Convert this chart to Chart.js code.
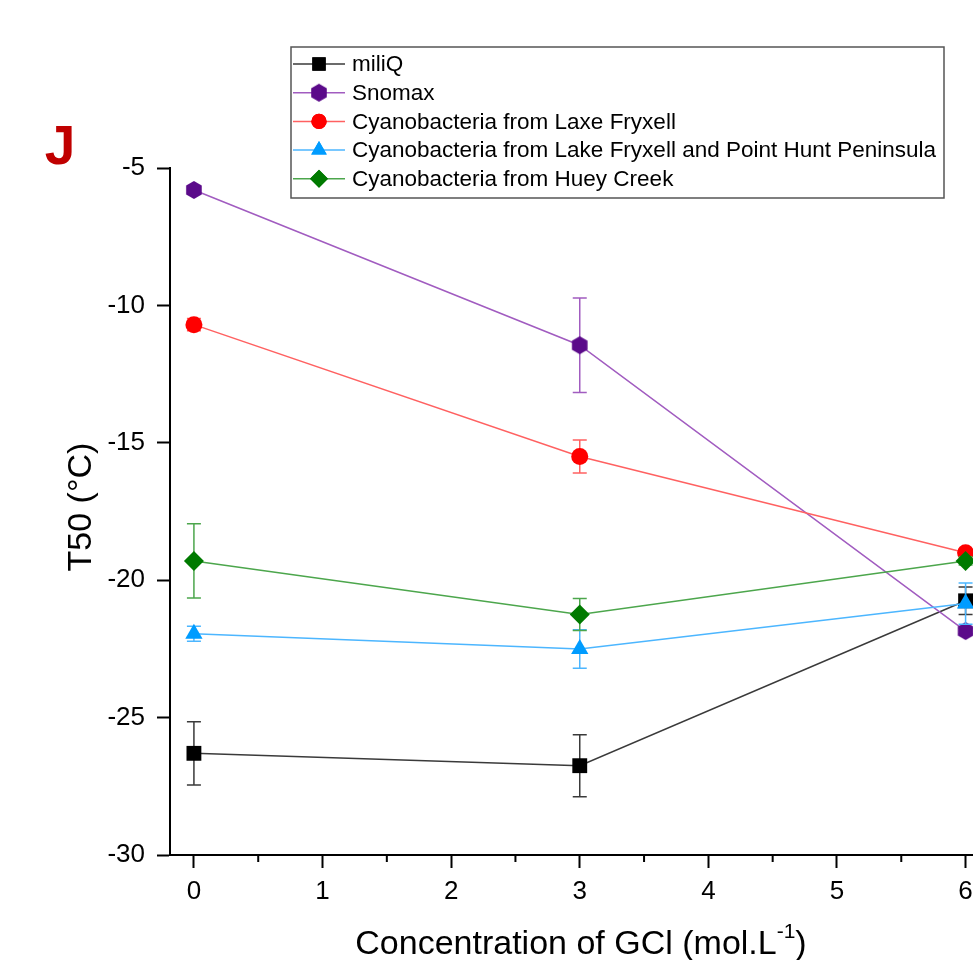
<!DOCTYPE html>
<html>
<head>
<meta charset="utf-8">
<script src="https://cdn.jsdelivr.net/npm/chart.js@4"></script>
<style>
  html, body { margin: 0; padding: 0; background: #fff; overflow: hidden; }
  #wrap { position: absolute; left: 0; top: 0; width: 1000px; height: 960px; }
</style>
</head>
<body>
<div id="wrap"><canvas id="chart" width="1000" height="960"></canvas></div>
<script>
// ========== DATA ==========
const concentrations = [0, 3, 6];
const seriesNames = [
  "miliQ",
  "Snomax",
  "Cyanobacteria from Laxe Fryxell",
  "Cyanobacteria from Lake Fryxell and Point Hunt Peninsula",
  "Cyanobacteria from Huey Creek",
];
const miliQ = [-26.3, -26.75, -20.75];
const miliQErr = [1.15, 1.13, 0.5];
const snomax = [-5.8, -11.45, -21.85];
const snomaxErr = [0.1, 1.72, 0.1];
const laxeFryxell = [-10.7, -15.5, -19.0];
const laxeFryxellErr = [0.22, 0.6, 0.1];
const pointHunt = [-21.95, -22.5, -20.85];
const pointHuntErr = [0.27, 0.7, 0.75];
const hueyCreek = [-19.3, -21.25, -19.3];
const hueyCreekErr = [1.35, 0.58, 0.15];
const yTicks = [-30, -25, -20, -15, -10, -5];
const xTicks = [0, 1, 2, 3, 4, 5, 6];

const FONT = '"Liberation Sans", Arial, sans-serif';

// hexagon marker for Snomax (no built-in style)
function hexagon(r, color) {
  const c = document.createElement("canvas");
  c.width = c.height = Math.ceil(r * 2 + 2);
  const g = c.getContext("2d");
  const m = c.width / 2;
  g.beginPath();
  for (let i = 0; i < 6; i++) {
    const a = Math.PI / 2 + (i * Math.PI) / 3;
    g.lineTo(m + r * Math.cos(a), m - r * Math.sin(a));
  }
  g.closePath();
  g.fillStyle = color;
  g.fill();
  return c;
}

const styles = [
  { line: "#3a3a3a", mark: "#000000", point: "rect", radius: 10.5 },
  { line: "#a15cc0", mark: "#5b0a8a", point: hexagon(9, "#5b0a8a"), radius: 9 },
  { line: "#ff6161", mark: "#ff0000", point: "circle", radius: 8.5 },
  { line: "#4cb6ff", mark: "#009cff", point: "triangle", radius: 10 },
  { line: "#4ca64c", mark: "#007a00", point: "rectRot", radius: 10 },
];
const values = [miliQ, snomax, laxeFryxell, pointHunt, hueyCreek];
const errors = [miliQErr, snomaxErr, laxeFryxellErr, pointHuntErr, hueyCreekErr];

const datasets = values.map((v, i) => ({
  label: seriesNames[i],
  data: concentrations.map((x, j) => ({ x, y: v[j] })),
  errors: errors[i],
  borderColor: styles[i].line,
  backgroundColor: styles[i].mark,
  borderWidth: 1.5,
  pointStyle: styles[i].point,
  pointRadius: styles[i].radius,
  pointBorderWidth: 0,
  pointBackgroundColor: styles[i].mark,
  tension: 0,
  order: values.length - i,
  clip: false,
}));

// error bars, drawn under each series' markers
const errorBars = {
  id: "errorBars",
  beforeDatasetDraw(chart, args) {
    const ds = chart.data.datasets[args.index];
    const { x, y } = chart.scales;
    const ctx = chart.ctx;
    ctx.save();
    ctx.strokeStyle = ds.borderColor;
    ctx.lineWidth = 1.5;
    ds.data.forEach((p, j) => {
      const e = ds.errors[j];
      const px = x.getPixelForValue(p.x);
      const top = y.getPixelForValue(p.y + e);
      const bot = y.getPixelForValue(p.y - e);
      ctx.beginPath();
      ctx.moveTo(px, top); ctx.lineTo(px, bot);
      ctx.moveTo(px - 7, top); ctx.lineTo(px + 7, top);
      ctx.moveTo(px - 7, bot); ctx.lineTo(px + 7, bot);
      ctx.stroke();
    });
    ctx.restore();
  },
};

// minor ticks, titles, legend box and panel letter
const decorations = {
  id: "decorations",
  afterDraw(chart) {
    const ctx = chart.ctx;
    const { x, y } = chart.scales;
    const area = chart.chartArea;
    ctx.save();
    ctx.strokeStyle = "#000";
    ctx.lineWidth = 2;
    ctx.beginPath();
    for (let v = 0.5; v < 6.6; v += 1) {
      const px = x.getPixelForValue(v);
      ctx.moveTo(px, area.bottom); ctx.lineTo(px, area.bottom + 7);
    }
    for (let v = -27.5; v > -5; v += 5) {
      const py = y.getPixelForValue(v);
      ctx.moveTo(area.left, py); ctx.lineTo(area.left - 7, py);
    }
    ctx.stroke();

    // axis titles
    ctx.fillStyle = "#000";
    ctx.textBaseline = "middle";
    const main = "Concentration of GCl (mol.L";
    const sup = "-1";
    const close = ")";
    ctx.font = "34px " + FONT;
    const wMain = ctx.measureText(main).width;
    const wClose = ctx.measureText(close).width;
    ctx.font = "21px " + FONT;
    const wSup = ctx.measureText(sup).width;
    const total = wMain + wSup + wClose;
    let tx = 581 - total / 2;
    ctx.textAlign = "left";
    ctx.font = "34px " + FONT;
    ctx.fillText(main, tx, 945);
    ctx.font = "21px " + FONT;
    ctx.fillText(sup, tx + wMain, 932);
    ctx.font = "34px " + FONT;
    ctx.fillText(close, tx + wMain + wSup, 945);

    ctx.save();
    ctx.translate(82, 507);
    ctx.rotate(-Math.PI / 2);
    ctx.textAlign = "center";
    ctx.font = "34px " + FONT;
    ctx.fillText("T50 (°C)", 0, 0);
    ctx.restore();

    // panel letter
    ctx.fillStyle = "#c00000";
    ctx.font = "bold 55px " + FONT;
    ctx.textAlign = "center";
    ctx.textBaseline = "alphabetic";
    ctx.fillText("J", 60, 164);

    // legend
    ctx.fillStyle = "#fff";
    ctx.fillRect(291, 47, 653, 151);
    ctx.strokeStyle = "#555";
    ctx.lineWidth = 1.5;
    ctx.strokeRect(291, 47, 653, 151);
    chart.data.datasets.forEach((ds, i) => {
      const ly = 64 + i * 28.7;
      ctx.strokeStyle = ds.borderColor;
      ctx.lineWidth = 1.5;
      ctx.beginPath();
      ctx.moveTo(293, ly); ctx.lineTo(345, ly);
      ctx.stroke();
      const st = ds.pointStyle;
      if (st instanceof HTMLCanvasElement) {
        ctx.drawImage(st, 319 - st.width / 2, ly - st.height / 2);
      } else {
        ctx.fillStyle = ds.pointBackgroundColor;
        Chart.helpers.drawPoint(ctx, { pointStyle: st, radius: ds.pointRadius * 0.9, borderWidth: 0 }, 319, ly);
        ctx.fill();
      }
      ctx.fillStyle = "#000";
      ctx.font = "22.5px " + FONT;
      ctx.textAlign = "left";
      ctx.textBaseline = "middle";
      ctx.fillText(ds.label, 352, ly + 1);
    });
    ctx.restore();
  },
};

new Chart(document.getElementById("chart"), {
  type: "line",
  data: { datasets },
  plugins: [errorBars, decorations],
  options: {
    responsive: false,
    animation: false,
    layout: { padding: { top: 168, right: 9, left: 0, bottom: 0 } },
    plugins: { legend: { display: false }, tooltip: { enabled: false } },
    scales: {
      x: {
        type: "linear",
        min: -0.186,
        max: 6.186,
        afterFit: (s) => { s.height = 105; },
        afterBuildTicks: (s) => { s.ticks = xTicks.map((v) => ({ value: v })); },
        ticks: { includeBounds: false, font: { family: FONT, size: 26 }, color: "#000", padding: 8 },
        grid: { drawOnChartArea: false, drawTicks: true, tickLength: 13, tickWidth: 2, tickColor: "#000" },
        border: { display: true, color: "#000", width: 2 },
      },
      y: {
        type: "linear",
        min: -30,
        max: -5,
        afterFit: (s) => { s.width = 170; },
        afterBuildTicks: (s) => { s.ticks = yTicks.map((v) => ({ value: v })); },
        ticks: { font: { family: FONT, size: 26 }, color: "#000", padding: 12 },
        grid: { drawOnChartArea: false, drawTicks: true, tickLength: 13, tickWidth: 2, tickColor: "#000" },
        border: { display: true, color: "#000", width: 2 },
      },
    },
  },
});
</script>
</body>
</html>
